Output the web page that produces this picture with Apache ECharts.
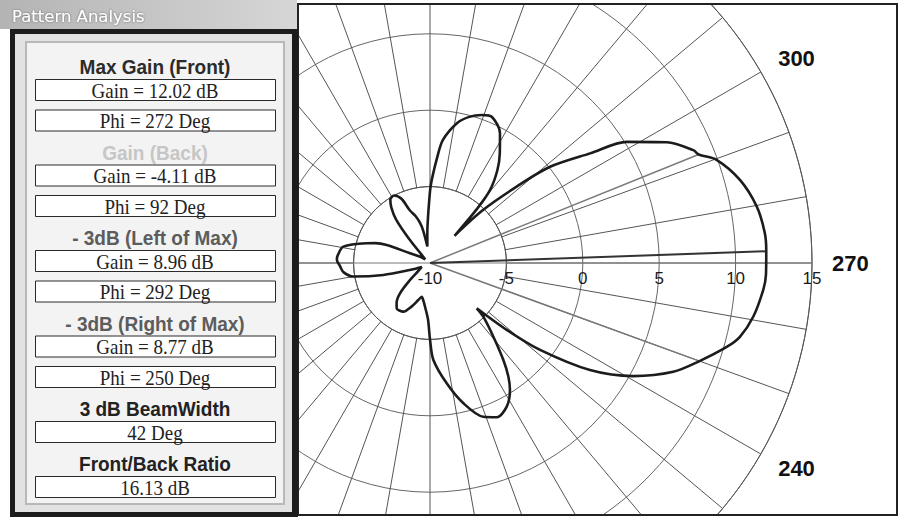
<!DOCTYPE html>
<html><head><meta charset="utf-8">
<script src="https://cdn.jsdelivr.net/npm/echarts@6/dist/echarts.min.js"></script>
<style>html,body{margin:0;padding:0;background:#fff}#chart{width:903px;height:517px}</style>
</head><body><div id="chart"></div>
<script>
// Radiation pattern: azimuth (deg) and gain (dB)
const phi  = [0, 2, 5, 9, 12, 14, 17, 21, 24, 28, 32, 35, 38, 41, 45, 52, 58, 64, 67.4, 70, 72.7, 79.3, 85, 88, 92, 96, 100, 104.4, 109.3, 116, 124, 130.4, 135.3, 140, 143.7, 151.3, 157, 162.5, 166.2, 170, 173.5, 178, 180, 182, 187.9, 193.4, 199.1, 203.4, 208.1, 212.2, 214.6, 217.1, 220.7, 224.8, 225.9, 228.9, 231.7, 236.2, 240.9, 245.9, 250, 254.2, 256.6, 260.6, 265.4, 268, 272, 275.1, 279.8, 285, 289.8, 292, 293.2, 297, 301.6, 304.4, 308.7, 311.4, 315, 318, 319, 320.6, 324, 327.5, 331.7, 337, 340.6, 345, 349, 354, 356, 358.8, 360];
const gain = [-5.3, -6.75, -8.0, -8.9, -7.8, -7.3, -6.8, -6.3, -5.4, -5.0, -5.1, -5.6, -6.4, -7.9, -9.2, -9.6, -9.2, -8.55, -6.93, -6.2, -5.66, -4.23, -3.95, -3.9, -4.11, -4.3, -4.9, -6.85, -8.6, -9.4, -9.1, -8.28, -7.21, -6.6, -6.32, -6.37, -6.9, -7.46, -7.73, -7.5, -7.12, -6.3, -5.0, -3.65, -2.05, -0.56, 0.65, 1.0, 0.66, -0.18, -0.97, -2.04, -3.64, -5.05, -5.74, -3.34, -0.82, 2.6, 5.22, 7.44, 8.77, 10.18, 10.85, 11.45, 11.88, 12.0, 12.02, 12.0, 11.7, 11.0, 9.93, 8.96, 8.75, 7.4, 5.13, 2.7, 0.07, -2.44, -5.1, -7.6, -5.35, -3.8, -2.5, -1.5, -0.34, 0.38, 0.27, -0.1, -0.67, -1.9, -3.0, -4.56, -5.3];

// Analysis markers (max gain and -3 dB points)
const markPhi  = [272, 292, 250];
const markGain = [12.02, 8.96, 8.77];

// Axis ticks
const radiusMin = -10, radiusMax = 15, radiusStep = 5;
const angleLabels = [240, 270, 300];

// Side panel texts
const panelHeaders = ['Max Gain (Front)', 'Gain (Back)', '- 3dB (Left of Max)', '- 3dB (Right of Max)', '3 dB BeamWidth', 'Front/Back Ratio'];
const panelBoxes = [
  ['Gain = 12.02 dB', 'Phi = 272 Deg'],
  ['Gain = -4.11 dB', 'Phi = 92 Deg'],
  ['Gain = 8.96 dB', 'Phi = 292 Deg'],
  ['Gain = 8.77 dB', 'Phi = 250 Deg'],
  ['42 Deg'],
  ['16.13 dB']
];
const panelTitle = 'Pattern Analysis';

// ---------------- layout / styling ----------------
const CX = 430, CY = 263, R = 382;
const rInner = R * (radiusStep) / (radiusMax - radiusMin);
const headerColors = ['#2b2b2b', '#c6c6c6', '#5c5c5c', '#5c5c5c', '#222', '#222'];

const chart = echarts.init(document.getElementById('chart'), null, {renderer: 'svg'});

const graphics = [];
const Z = 100;
// covers outside the plot frame
graphics.push({type: 'rect', z: Z, shape: {x: 0, y: 0, width: 903, height: 4}, style: {fill: '#fff'}});
graphics.push({type: 'rect', z: Z, shape: {x: 0, y: 515, width: 903, height: 2}, style: {fill: '#fff'}});
graphics.push({type: 'rect', z: Z, shape: {x: 898, y: 0, width: 5, height: 517}, style: {fill: '#fff'}});
graphics.push({type: 'rect', z: Z + 1, shape: {x: 298, y: 4, width: 599, height: 511}, style: {fill: null, stroke: '#222', lineWidth: 2}});
// panel background
graphics.push({type: 'rect', z: Z, shape: {x: 0, y: 0, width: 298, height: 517}, style: {fill: '#fff'}});
graphics.push({type: 'rect', z: Z + 1, shape: {x: 0, y: 0, width: 297, height: 29},
  style: {fill: new echarts.graphic.LinearGradient(0, 0, 1, 0, [{offset: 0, color: '#b4b4b4'}, {offset: 1, color: '#d6d6d6'}])}});
graphics.push({type: 'text', z: Z + 2, x: 12, y: 16, style: {text: panelTitle, fill: '#ffffff', font: '16.5px "DejaVu Sans"',
  textAlign: 'left', textVerticalAlign: 'middle', align: 'left', verticalAlign: 'middle', textShadowColor: '#666', textShadowBlur: 2}});
graphics.push({type: 'rect', z: Z + 1, shape: {x: 10, y: 29, width: 288, height: 488}, style: {fill: '#1c1c1c'}});
graphics.push({type: 'rect', z: Z + 2, shape: {x: 15, y: 34, width: 277, height: 478}, style: {fill: '#e2e2e2'}});
graphics.push({type: 'rect', z: Z + 3, shape: {x: 26, y: 42, width: 258, height: 462}, style: {fill: '#f3f3f3', stroke: '#b8b8b8', lineWidth: 2}});

let y = 67;
panelHeaders.forEach((h, i) => {
  graphics.push({type: 'text', z: Z + 5, x: 155, y: y, scaleY: 1.05,
    style: {text: h, fill: headerColors[i], font: 'bold 19px "Liberation Sans"', textAlign: 'center', textVerticalAlign: 'middle', align: 'center', verticalAlign: 'middle'}});
  let top = y + 12;
  panelBoxes[i].forEach((t, j) => {
    graphics.push({type: 'rect', z: Z + 4, shape: {x: 35.5, y: top + 0.5, width: 240, height: 21}, style: {fill: '#fff', stroke: '#2a2a2a', lineWidth: 1}});
    graphics.push({type: 'text', z: Z + 5, x: 155, y: top + 11.5, scaleY: 1.08,
      style: {text: t, fill: '#222', font: '19px "Liberation Serif"', textAlign: 'center', textVerticalAlign: 'middle', align: 'center', verticalAlign: 'middle'}});
    if (j < panelBoxes[i].length - 1) top += 30.5;
  });
  y = top + 22 + 21;
});

const patternData = phi.map((p, i) => [gain[i], p]);

const option = {
  backgroundColor: '#fff',
  animation: false,
  polar: [
    {center: [CX, CY], radius: [rInner, R]},
    {center: [CX, CY], radius: [0, R]},
    {center: [CX, CY], radius: [0, R]}
  ],
  angleAxis: [
    {polarIndex: 0, type: 'value', min: 270, max: 630, interval: 10, startAngle: 0, clockwise: false,
      axisLine: {show: true, lineStyle: {color: '#555', width: 1}},
      axisTick: {show: false},
      axisLabel: {show: true, margin: 20, color: '#111', fontSize: 22, fontWeight: 'bold', fontFamily: 'Liberation Sans', lineHeight: 8,
        formatter: v => (v < 630 && angleLabels.indexOf(v % 360) >= 0) ? String(v % 360) : ''},
      splitLine: {show: true, lineStyle: {color: '#555', width: 1}}
    },
    {polarIndex: 1, type: 'value', min: 0, max: 360, startAngle: 90, clockwise: false, show: false},
    {polarIndex: 2, type: 'value', min: 270, max: 630, startAngle: 0, clockwise: false, show: false}
  ],
  radiusAxis: [
    {polarIndex: 0, type: 'value', min: radiusMin + radiusStep, max: radiusMax, interval: radiusStep,
      axisLine: {show: false}, axisTick: {show: false}, axisLabel: {show: false},
      splitLine: {show: true, lineStyle: {color: '#666', width: 1}}},
    {polarIndex: 1, type: 'value', min: radiusMin, max: radiusMax, show: false},
    {polarIndex: 2, type: 'value', min: radiusMin, max: radiusMax, interval: radiusStep,
      axisLine: {show: false}, axisTick: {show: false}, splitLine: {show: false},
      axisLabel: {show: true, margin: -7, verticalAlign: 'top', align: 'center', color: '#1a1a1a', fontSize: 17, fontFamily: 'Liberation Sans'}}
  ],
  series: [
    {type: 'line', coordinateSystem: 'polar', polarIndex: 1, silent: true, showSymbol: false,
      data: [[radiusMax, 90], [radiusMax, 270]], lineStyle: {color: '#7a7a7a', width: 1.2}, z: 2},
    {type: 'line', coordinateSystem: 'polar', polarIndex: 1, silent: true, showSymbol: false,
      data: [[radiusMin, markPhi[1]], [markGain[1], markPhi[1]]], lineStyle: {color: '#7a7a7a', width: 1.5}, z: 3},
    {type: 'line', coordinateSystem: 'polar', polarIndex: 1, silent: true, showSymbol: false,
      data: [[radiusMin, markPhi[2]], [markGain[2], markPhi[2]]], lineStyle: {color: '#7a7a7a', width: 1.5}, z: 3},
    {type: 'line', coordinateSystem: 'polar', polarIndex: 1, silent: true, showSymbol: false,
      data: [[radiusMin, markPhi[0]], [markGain[0], markPhi[0]]], lineStyle: {color: '#333', width: 2}, z: 3},
    {type: 'line', coordinateSystem: 'polar', polarIndex: 1, silent: true, showSymbol: false, smooth: 0.3,
      data: patternData, lineStyle: {color: '#1c1c1c', width: 2.6}, z: 4}
  ],
  graphic: graphics
};
chart.setOption(option);
</script></body></html>
